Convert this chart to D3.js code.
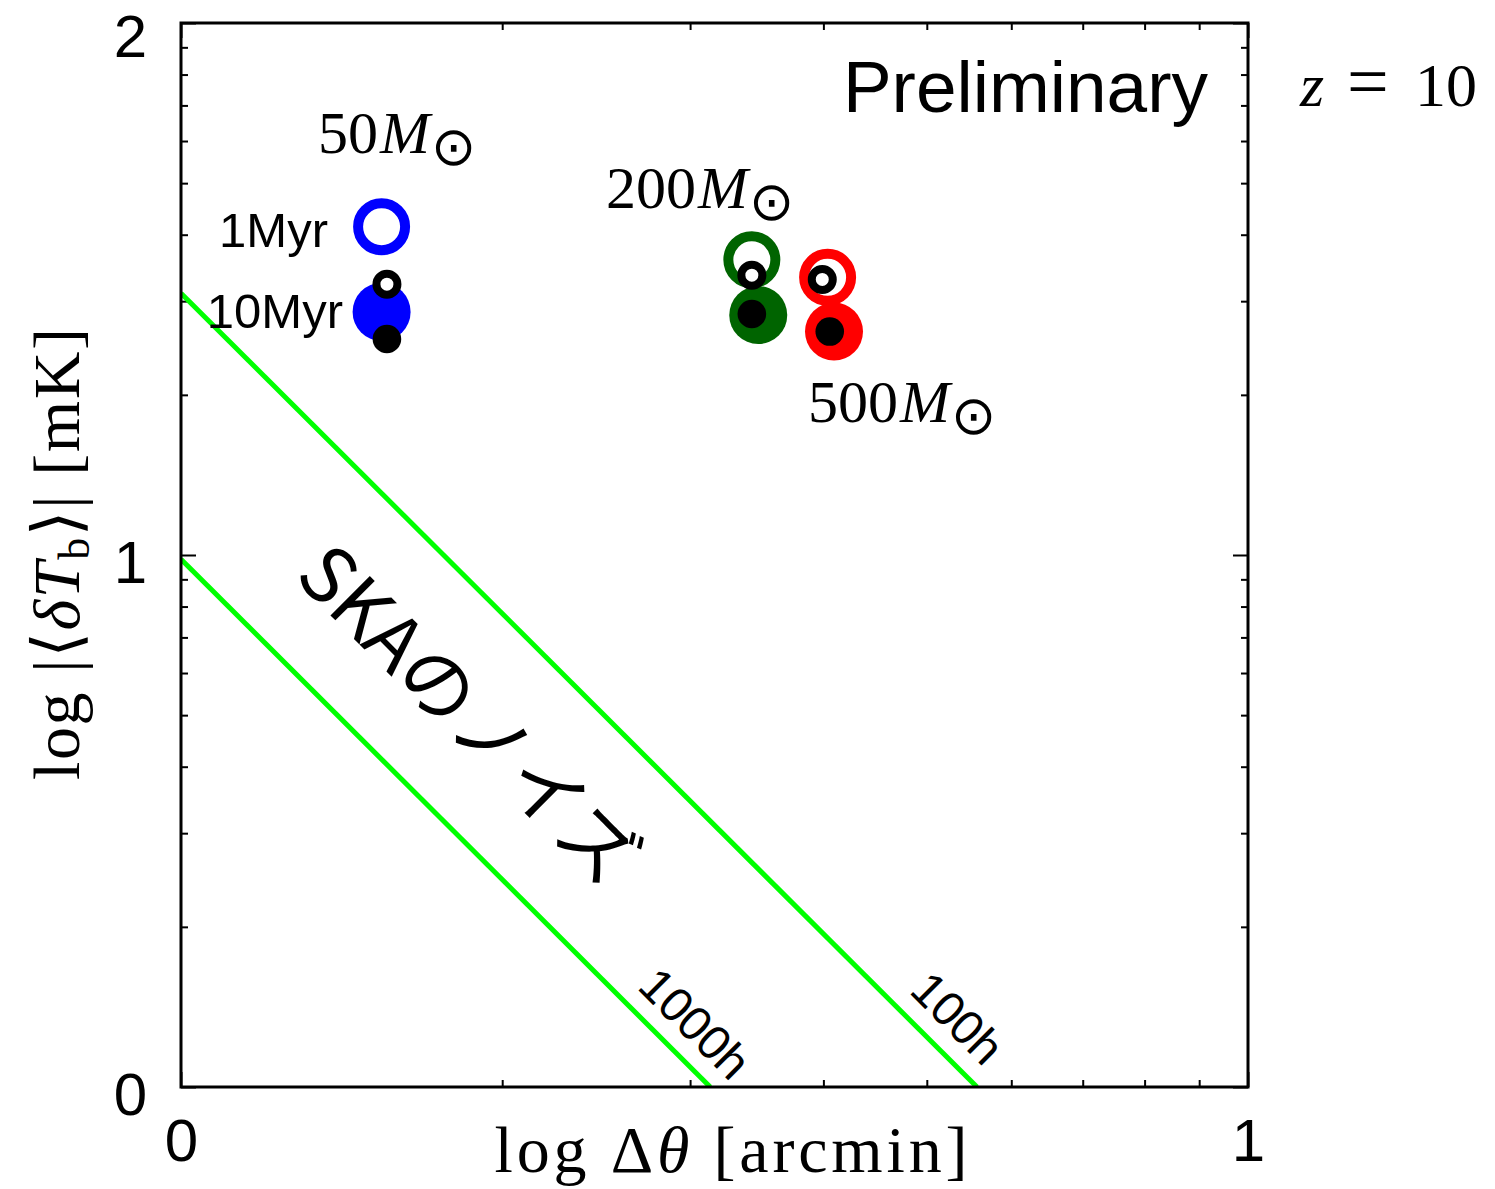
<!DOCTYPE html>
<html>
<head>
<meta charset="utf-8">
<script src="https://cdn.jsdelivr.net/npm/d3@7"></script>
<style>
  body { margin: 0; background: #fff; }
  svg { display: block; }
</style>
</head>
<body>
<svg class="chart-svg"></svg>
<script>
const masses = ["50", "200", "500"];
const ages = ["1Myr", "10Myr"];
const colors = ["#0000ff", "#006400", "#ff0000"];

// coloured markers: open = 1Myr, filled = 10Myr (one per mass)
const openX = [0.188, 0.535, 0.606];
const openY = [1.617, 1.555, 1.522];
const filledX = [0.188, 0.541, 0.612];
const filledY = [1.457, 1.451, 1.42];

// small black markers on top
const blackOpenX = [0.193, 0.535, 0.601];
const blackOpenY = [1.509, 1.526, 1.518];
const blackFilledX = [0.193, 0.535, 0.608];
const blackFilledY = [1.406, 1.453, 1.42];

// SKA noise lines
const noiseLabels = ["100h", "1000h"];
const noiseX = [[0, 0.746], [0, 0.496]];
const noiseY = [[1.492, 0], [0.992, 0]];

const xTicks = [0, 1];
const yTicks = [0, 1, 2];
const minorSteps = [2, 3, 4, 5, 6, 7, 8, 9];

const SERIF = '"Liberation Serif", "DejaVu Serif", serif';
const SANS = '"Liberation Sans", Arial, sans-serif';

function drawChart() {
  const width = 1495;
  const height = 1189;
  const left = 181, right = 1248, top = 23, bottom = 1087;

  const xScale = d3.scaleLinear().domain([0, 1]).range([left, right]);
  const yScale = d3.scaleLinear().domain([0, 2]).range([bottom, top]);

  const svg = d3
    .select(".chart-svg")
    .attr("width", width)
    .attr("height", height)
    .style("background", "#fff");

  svg
    .append("clipPath")
    .attr("id", "plot-clip")
    .append("rect")
    .attr("x", left)
    .attr("y", top)
    .attr("width", right - left)
    .attr("height", bottom - top);

  const xMinor = [0].flatMap((d) => minorSteps.map((k) => d + Math.log10(k)));
  const yMinor = [0, 1].flatMap((d) => minorSteps.map((k) => d + Math.log10(k)));

  function styleAxis(g) {
    g.select(".domain").remove();
    g.selectAll(".tick line").attr("stroke", "#000").attr("stroke-width", 2);
  }

  // minor ticks, pointing inward on all four sides
  svg.append("g").attr("transform", `translate(0,${bottom})`)
    .call(d3.axisBottom(xScale).tickValues(xMinor).tickSize(-7).tickFormat(""))
    .call(styleAxis);
  svg.append("g").attr("transform", `translate(0,${top})`)
    .call(d3.axisTop(xScale).tickValues(xMinor).tickSize(-7).tickFormat(""))
    .call(styleAxis);
  svg.append("g").attr("transform", `translate(${left},0)`)
    .call(d3.axisLeft(yScale).tickValues(yMinor).tickSize(-7).tickFormat(""))
    .call(styleAxis);
  svg.append("g").attr("transform", `translate(${right},0)`)
    .call(d3.axisRight(yScale).tickValues(yMinor).tickSize(-7).tickFormat(""))
    .call(styleAxis);

  // major ticks + labels
  svg.append("g").attr("transform", `translate(0,${bottom})`)
    .call(d3.axisBottom(xScale).tickValues(xTicks).tickSize(-15).tickPadding(31).tickFormat(d3.format("d")))
    .call(styleAxis)
    .attr("font-size", 60)
    .attr("font-family", SANS)
    .selectAll("text").attr("fill", "#000");
  svg.append("g").attr("transform", `translate(${left},0)`)
    .call(d3.axisLeft(yScale).tickValues(yTicks).tickSize(-15).tickPadding(34).tickFormat(d3.format("d")))
    .call(styleAxis)
    .attr("font-size", 60)
    .attr("font-family", SANS)
    .selectAll("text")
    .attr("fill", "#000")
    .attr("dy", (d) => (d === 2 ? "0.56em" : "0.46em"));
  svg.append("g").attr("transform", `translate(0,${top})`)
    .call(d3.axisTop(xScale).tickValues(xTicks).tickSize(-15).tickFormat(""))
    .call(styleAxis);
  svg.append("g").attr("transform", `translate(${right},0)`)
    .call(d3.axisRight(yScale).tickValues(yTicks).tickSize(-15).tickFormat(""))
    .call(styleAxis);

  // noise lines
  const line = d3.line().x((d) => xScale(d[0])).y((d) => yScale(d[1]));
  const plot = svg.append("g").attr("clip-path", "url(#plot-clip)");
  noiseLabels.forEach((label, i) => {
    plot
      .append("path")
      .datum(noiseX[i].map((x, j) => [x, noiseY[i][j]]))
      .attr("d", line)
      .attr("fill", "none")
      .attr("stroke", "#00ff00")
      .attr("stroke-width", 5);
  });

  // markers
  const markers = plot.append("g");
  masses.forEach((m, i) => {
    markers.append("circle")
      .attr("cx", xScale(openX[i])).attr("cy", yScale(openY[i]))
      .attr("r", 23.5).attr("fill", "#fff")
      .attr("stroke", colors[i]).attr("stroke-width", 10);
  });
  masses.forEach((m, i) => {
    markers.append("circle")
      .attr("cx", xScale(filledX[i])).attr("cy", yScale(filledY[i]))
      .attr("r", 29).attr("fill", colors[i]);
  });
  masses.forEach((m, i) => {
    markers.append("circle")
      .attr("cx", xScale(blackOpenX[i])).attr("cy", yScale(blackOpenY[i]))
      .attr("r", 10.5).attr("fill", "#fff")
      .attr("stroke", "#000").attr("stroke-width", 8);
  });
  masses.forEach((m, i) => {
    markers.append("circle")
      .attr("cx", xScale(blackFilledX[i])).attr("cy", yScale(blackFilledY[i]))
      .attr("r", 14.3).attr("fill", "#000");
  });

  // frame
  svg
    .append("rect")
    .attr("x", left)
    .attr("y", top)
    .attr("width", right - left)
    .attr("height", bottom - top)
    .attr("fill", "none")
    .attr("stroke", "#000")
    .attr("stroke-width", 3);

  // mass labels
  const massPos = [[318, 153], [606, 208], [808, 422]];
  masses.forEach((m, i) => {
    const t = svg.append("text")
      .attr("x", massPos[i][0]).attr("y", massPos[i][1])
      .attr("font-family", SERIF).attr("font-size", 60).attr("fill", "#000");
    t.append("tspan").text(m);
    t.append("tspan").attr("font-style", "italic").attr("dx", 2).text("M");
    t.append("tspan")
      .attr("font-family", '"DejaVu Sans", sans-serif')
      .attr("font-size", 54).attr("dx", 1).attr("dy", 12)
      .text("\u2299");
  });

  // age labels
  const agePos = [[328, 247], [343, 328]];
  ages.forEach((a, i) => {
    svg.append("text")
      .attr("x", agePos[i][0]).attr("y", agePos[i][1])
      .attr("text-anchor", "end")
      .attr("font-family", SANS).attr("font-size", 49)
      .text(a);
  });

  // noise labels
  const noisePos = [[908, 992], [636, 988]];
  noiseLabels.forEach((label, i) => {
    svg.append("text")
      .attr("transform", `translate(${noisePos[i][0]},${noisePos[i][1]}) rotate(45)`)
      .attr("font-family", SANS).attr("font-size", 48)
      .text(label);
  });

  svg.append("text")
    .attr("transform", "translate(293,578) rotate(45)")
    .attr("font-family", '"Noto Sans CJK JP", sans-serif')
    .attr("font-size", 76)
    .text("SKAのノイズ");

  svg.append("text")
    .attr("x", 1208).attr("y", 112)
    .attr("text-anchor", "end")
    .attr("font-family", SANS).attr("font-size", 73)
    .text("Preliminary");

  const z = svg.append("text").attr("y", 106).attr("font-family", SERIF).attr("font-size", 62);
  z.append("tspan").attr("x", 1300).attr("font-style", "italic").text("z");
  z.append("tspan").attr("x", 1347).attr("font-size", 74).text("=");
  z.append("tspan").attr("x", 1415).text("10");

  // axis titles
  const xt = svg.append("text")
    .attr("x", 731).attr("y", 1172)
    .attr("text-anchor", "middle")
    .attr("font-family", SERIF).attr("font-size", 66)
    .attr("textLength", 473).attr("lengthAdjust", "spacing");
  xt.append("tspan").text("log \u0394");
  xt.append("tspan").attr("font-style", "italic").text("\u03b8");
  xt.append("tspan").text(" [arcmin]");

  const yt = svg.append("text")
    .attr("transform", "translate(79,554) rotate(-90)")
    .attr("text-anchor", "middle")
    .attr("font-family", SERIF).attr("font-size", 66)
    .attr("textLength", 452).attr("lengthAdjust", "spacing");
  yt.append("tspan").text("log |\u27e8");
  yt.append("tspan").attr("font-style", "italic").text("\u03b4T");
  yt.append("tspan").attr("font-size", 44).attr("dy", 10).text("b");
  yt.append("tspan").attr("dy", -10).text("\u27e9| [mK]");
}

drawChart();
</script>
</body>
</html>
